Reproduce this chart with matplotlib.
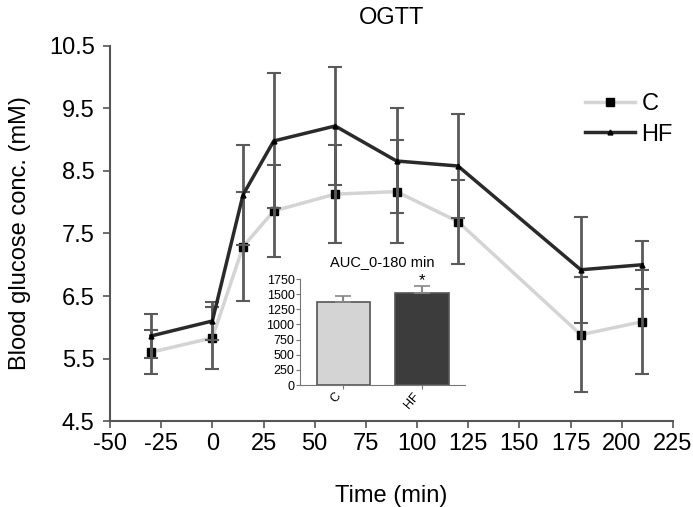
import numpy as np
import matplotlib.pyplot as plt

plt.rcParams['font.family'] = ['Liberation Sans', 'DejaVu Sans']
plt.rcParams['axes.unicode_minus'] = False

# OGTT time course
time = [-30, 0, 15, 30, 60, 90, 120, 180, 210]
c_mean = [5.60, 5.83, 7.29, 7.86, 8.13, 8.17, 7.69, 5.88, 6.09]
c_err = [0.35, 0.50, 0.87, 0.73, 0.78, 0.82, 0.67, 0.92, 0.83]
hf_mean = [5.86, 6.10, 8.12, 8.98, 9.22, 8.66, 8.58, 6.92, 7.00]
hf_err = [0.35, 0.30, 0.80, 1.08, 0.94, 0.84, 0.83, 0.85, 0.38]

# AUC inset
auc_groups = ['C', 'HF']
auc_mean = [1365, 1525]
auc_err = [110, 110]

x_ticks = np.arange(-50, 226, 25)
y_ticks = np.arange(4.5, 10.6, 1.0)
auc_ticks = np.arange(0, 1751, 250)

fig = plt.figure(figsize=(6.93, 5.07), dpi=100)
ax = fig.add_axes([0.1587, 0.1696, 0.8123, 0.7397])

err_col = '#5a5a5a'
ax.errorbar(time, c_mean, yerr=c_err, fmt='none', ecolor=err_col, elinewidth=2, capsize=5, capthick=1.5, zorder=3)
ax.errorbar(time, hf_mean, yerr=hf_err, fmt='none', ecolor=err_col, elinewidth=2, capsize=5, capthick=1.5, zorder=3)
ax.plot(time, c_mean, color='#d4d4d4', lw=2.5, marker='s', ms=6, mfc='black', mec='black', label='C', zorder=2)
ax.plot(time, hf_mean, color='#2a2a2a', lw=2.5, marker='^', ms=3.5, mfc='black', mec='black', label='HF', zorder=4)

ax.set_xlim(-50, 225)
ax.set_ylim(4.5, 10.5)
ax.set_xticks(x_ticks)
ax.set_yticks(y_ticks)
ax.set_yticklabels([f'{v:.1f}' for v in y_ticks])
for s in ['top', 'right']:
    ax.spines[s].set_visible(False)
for s in ['left', 'bottom']:
    ax.spines[s].set_color('#555555')
    ax.spines[s].set_linewidth(1.5)
ax.tick_params(direction='out', length=5, width=1.2, color='#555555', labelsize=17)
ax.tick_params(axis='y', pad=6)
ax.set_xlabel('Time (min)', fontsize=17, labelpad=22)
ax.set_ylabel('Blood glucose conc. (mM)', fontsize=17, labelpad=13)
ax.set_title('OGTT', fontsize=17, pad=16)

leg = ax.legend(loc='upper left', bbox_to_anchor=(0.806, 0.93), frameon=False,
                fontsize=17, handlelength=2.1, labelspacing=0.35, handletextpad=0.3,
                borderpad=0.4)

# inset bar chart
ins = fig.add_axes([0.433, 0.2406, 0.238, 0.2091])
ins.bar([0, 1], auc_mean, width=0.68, color=['#d4d4d4', '#3c3c3c'], edgecolor='#555555', lw=1.2)
ins.errorbar([0, 1], auc_mean, yerr=[[0, 0], auc_err], fmt='none', ecolor='#888888', elinewidth=1.5, capsize=6, capthick=1.2)
ins.text(1, 1600, '*', ha='center', va='bottom', fontsize=12)
ins.set_xlim(-0.55, 1.55)
ins.set_ylim(0, 1750)
ins.set_yticks(auc_ticks)
ins.set_xticks([0, 1])
ins.set_xticklabels(auc_groups, rotation=50, ha='right', fontsize=9)
for s in ['top', 'right']:
    ins.spines[s].set_visible(False)
for s in ['left', 'bottom']:
    ins.spines[s].set_color('#777777')
ins.tick_params(direction='out', length=3, color='#777777', labelsize=9, pad=1)
ins.set_title('AUC_0-180 min', fontsize=10.5, pad=9)
ins.patch.set_alpha(0)

fig.savefig('out.png', dpi=100)
